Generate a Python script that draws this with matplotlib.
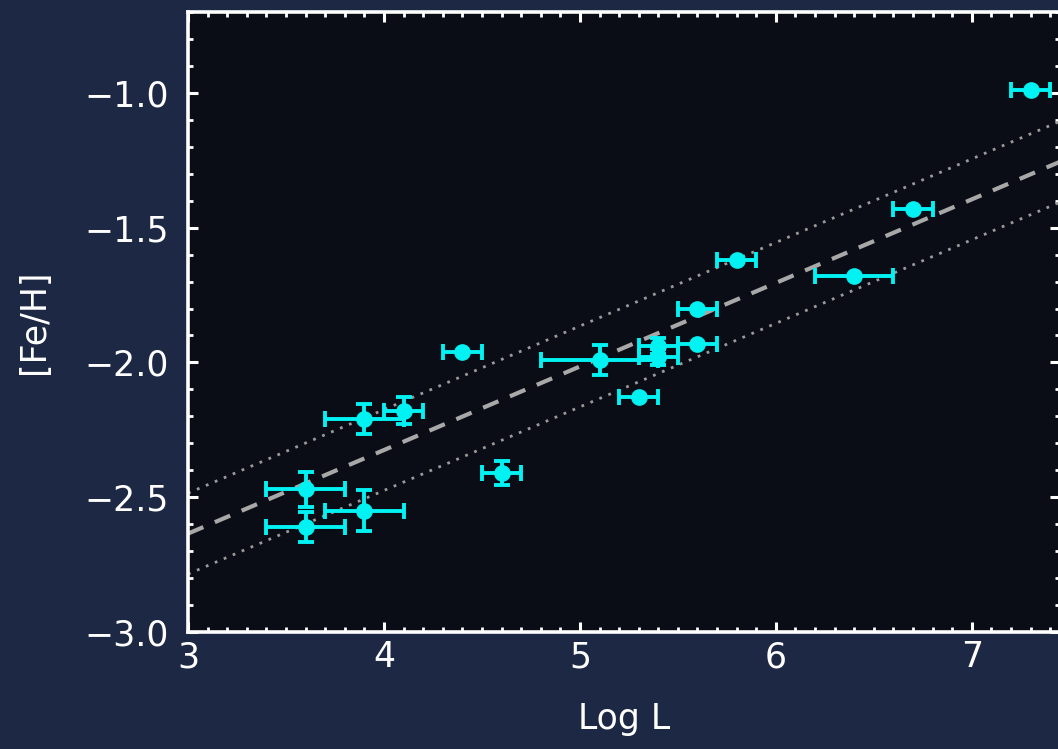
import matplotlib.pyplot as plt
import numpy as np
from matplotlib.ticker import MultipleLocator

# data
log_l = [7.3, 6.7, 6.4, 5.8, 5.6, 5.6, 5.4, 5.4, 5.3, 5.1, 4.6, 4.4, 4.1, 3.9, 3.9, 3.6, 3.6]
fe_h = [-0.99, -1.43, -1.68, -1.62, -1.80, -1.93, -1.94, -1.98, -2.13, -1.99,
        -2.41, -1.96, -2.18, -2.21, -2.55, -2.47, -2.61]
x_err = [0.1, 0.1, 0.2, 0.1, 0.1, 0.1, 0.1, 0.1, 0.1, 0.3, 0.1, 0.1, 0.1, 0.2, 0.2, 0.2, 0.2]
# vertical errors only where they stick out of the marker
y_err = [0, 0, 0, 0, 0, 0, 0.03, 0.03, 0, 0.055,
         0.045, 0, 0.05, 0.055, 0.075, 0.065, 0.055]

# fit line and scatter band
fit_slope = 0.31
fit_at3 = -2.635
band = 0.15

xticks = [3, 4, 5, 6, 7]
yticks = [-3.0, -2.5, -2.0, -1.5, -1.0]

bg = '#1d2944'
face = '#0a0d15'
cyan = '#00f2f2'
fs = 25

fig = plt.figure(figsize=(10.58, 7.49), dpi=100, facecolor=bg)
ax = fig.add_axes([188/1058, 117/749, 872/1058, 620/749])
ax.set_facecolor(face)

xl = np.array([3.0, 7.5])
yl = fit_at3 + fit_slope * (xl - 3)
ax.plot(xl, yl, color='#a8a8a8', linestyle=(0, (4, 3)), linewidth=3)
ax.plot(xl, yl + band, color='#9a9a9a', linestyle=(0, (1, 2.5)), linewidth=2)
ax.plot(xl, yl - band, color='#9a9a9a', linestyle=(0, (1, 2.5)), linewidth=2)

ax.errorbar(log_l, fe_h, xerr=x_err, fmt='o', color=cyan,
            markersize=11, elinewidth=2.8, capsize=5.5, capthick=2.8, zorder=3)
yi = [i for i, e in enumerate(y_err) if e > 0]
ax.errorbar([log_l[i] for i in yi], [fe_h[i] for i in yi],
            yerr=[y_err[i] for i in yi], fmt='none', ecolor=cyan,
            elinewidth=2.8, capsize=5.5, capthick=2.8, zorder=3)

ax.set_xlim(3, 7.45)
ax.set_ylim(-3.0, -0.7)
ax.set_xticks(xticks)
ax.set_yticks(yticks)
ax.set_yticklabels([f'{v:.1f}'.replace('-', '\u2212') for v in yticks])
ax.xaxis.set_minor_locator(MultipleLocator(0.1))
ax.yaxis.set_minor_locator(MultipleLocator(0.1))

for s in ax.spines.values():
    s.set_color('white')
    s.set_linewidth(2.6)
ax.tick_params(which='both', direction='in', top=True, right=True,
               color='white', labelcolor='white', labelsize=fs)
ax.tick_params(which='major', length=7, width=2.2, pad=6)
ax.tick_params(which='minor', length=3.5, width=2)
ax.tick_params(axis='y', which='major', pad=14)

ax.set_xlabel('Log L', color='white', fontsize=fs, labelpad=20)
ax.set_ylabel('[Fe/H]', color='white', fontsize=fs, labelpad=24)

plt.savefig('out.png', dpi=100, facecolor=bg)
